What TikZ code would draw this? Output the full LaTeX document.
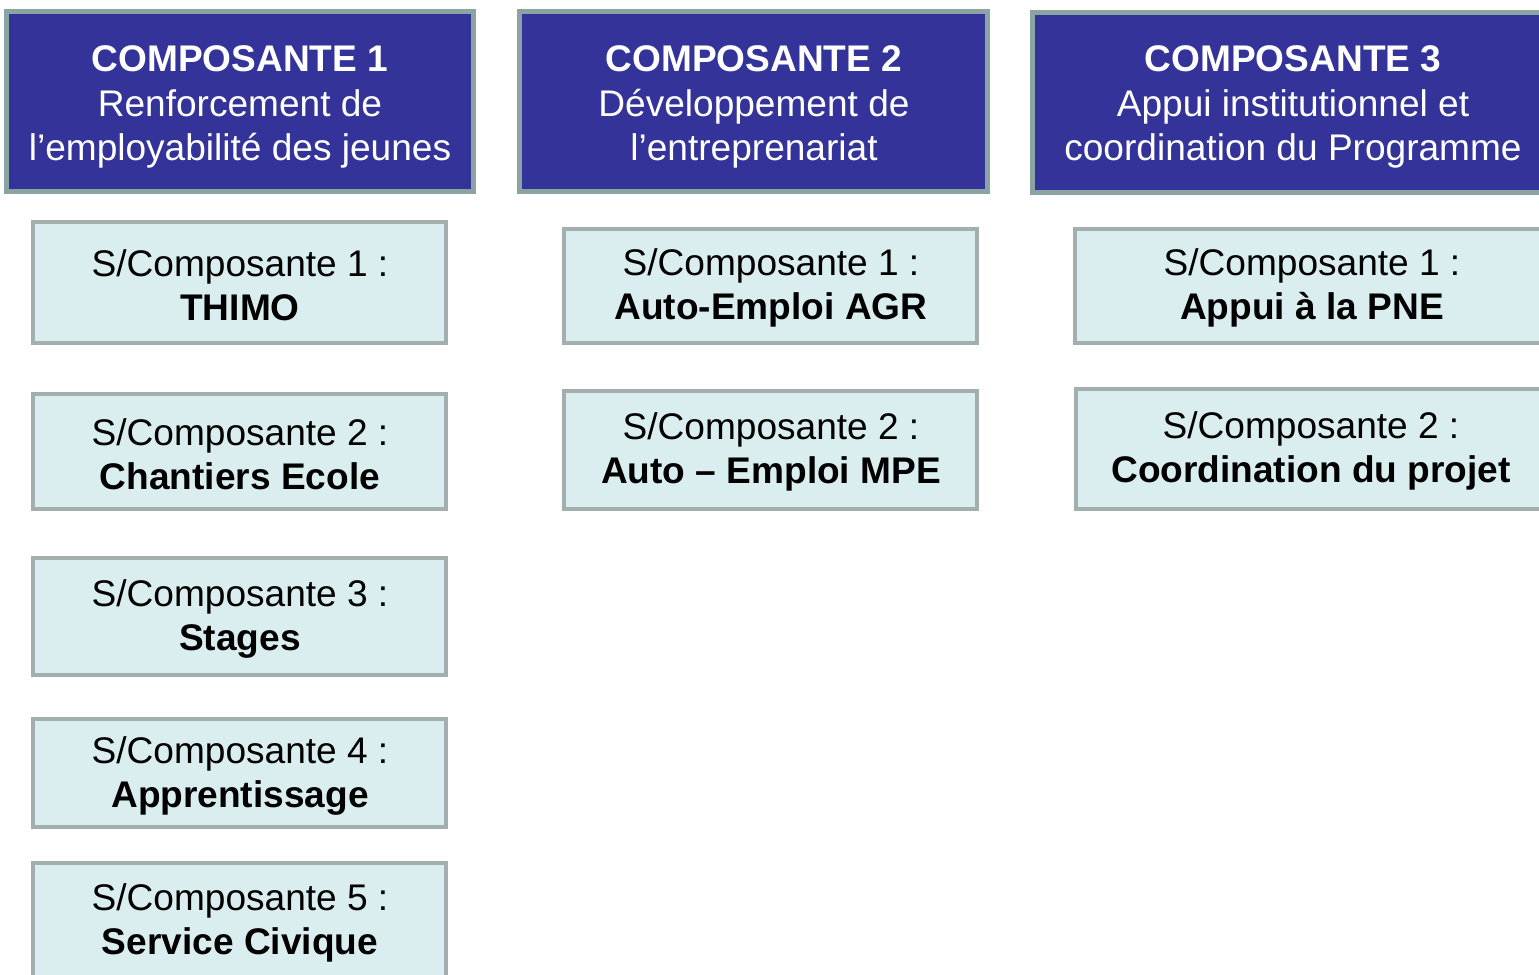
\documentclass[tikz,border=0pt]{standalone}
\usepackage{fontspec}
\setmainfont{Liberation Sans}
\definecolor{hdfill}{HTML}{333399}
\definecolor{hdline}{HTML}{8AA4A4}
\definecolor{sbfill}{HTML}{DAEEF0}
\definecolor{sbline}{HTML}{A3AFAF}
\begin{document}
\begin{tikzpicture}[x=1bp,y=-1bp,
  hdbox/.style={draw=hdline, fill=hdfill, line width=5bp},
  sbbox/.style={draw=sbline, fill=sbfill, line width=4bp},
  hdtext/.style={text=white, align=center, font=\fontsize{37.2}{45}\selectfont},
  sbtext/.style={text=black, align=center, font=\fontsize{37.2}{44}\selectfont}]
\useasboundingbox (0,0) rectangle (1539,974);
\clip (0,0) rectangle (1539,974);
% headers
\draw[hdbox] (6.5,11.5) rectangle (473.5,191.5);
\node[hdtext] (h1) at (240,107) {\textbf{COMPOSANTE 1}\\Renforcement de\\l’employabilité des jeunes};
\draw[hdbox] (519.5,11.5) rectangle (987.5,191.5);
\node[hdtext] (h2) at (754,107) {\textbf{COMPOSANTE 2}\\Développement de\\l’entreprenariat};
\draw[hdbox] (1032.5,12.5) rectangle (1560,192.5);
\node[hdtext] (h3) at (1293,107) {\textbf{COMPOSANTE 3}\\Appui institutionnel et\\coordination du Programme};
% column 1
\draw[sbbox] (33,222) rectangle (446,343);
\node[sbtext] (a1) at (240,285) {S/Composante 1 :\\\textbf{THIMO}};
\draw[sbbox] (33,394) rectangle (446,509);
\node[sbtext] (a2) at (240,454) {S/Composante 2 :\\\textbf{Chantiers Ecole}};
\draw[sbbox] (33,558) rectangle (446,675);
\node[sbtext] (a3) at (240,619) {S/Composante 3 :\\\textbf{Stages}};
\draw[sbbox] (33,719) rectangle (446,827);
\node[sbtext] (a4) at (240,776) {S/Composante 4 :\\\textbf{Apprentissage}};
\draw[sbbox] (33,863) rectangle (446,1000);
\node[sbtext] (a5) at (240,923) {S/Composante 5 :\\\textbf{Service Civique}};
% column 2
\draw[sbbox] (564,229) rectangle (977,343);
\node[sbtext] (b1) at (771,288) {S/Composante 1 :\\\textbf{Auto-Emploi AGR}};
\draw[sbbox] (564,391) rectangle (977,509);
\node[sbtext] (b2) at (771,452) {S/Composante 2 :\\\textbf{Auto – Emploi MPE}};
% column 3
\draw[sbbox] (1075,229) rectangle (1560,343);
\node[sbtext] (c1) at (1312,288) {S/Composante 1 :\\\textbf{Appui à la PNE}};
\draw[sbbox] (1076,389) rectangle (1560,509);
\node[sbtext] (c2) at (1311,451) {S/Composante 2 :\\\textbf{Coordination du projet}};
\end{tikzpicture}
\end{document}
